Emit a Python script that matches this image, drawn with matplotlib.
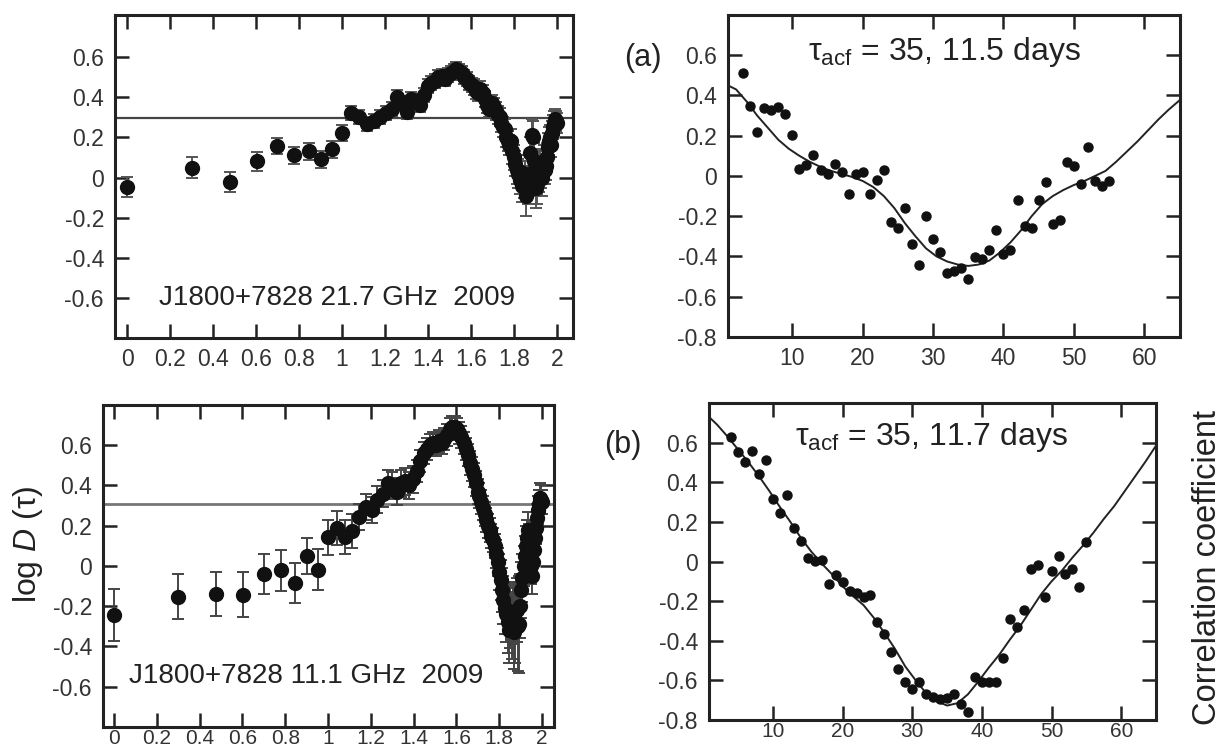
import numpy as np
import matplotlib
matplotlib.use("Agg")
import matplotlib.pyplot as plt

plt.rcParams['font.family'] = ['Liberation Sans', 'DejaVu Sans']
plt.rcParams['mathtext.fontset'] = 'custom'
plt.rcParams['mathtext.rm'] = 'Liberation Sans'
plt.rcParams['mathtext.it'] = 'Liberation Sans:italic'
plt.rcParams['axes.unicode_minus'] = False

# structure function: time lag in days (x axis is log10 of lag)
sf_lags = np.arange(1, 101)

sf_22 = [-0.045, 0.05, -0.02, 0.08, 0.155, 0.11, 0.13, 0.09, 0.14, 0.22,
         0.32, 0.30, 0.265, 0.28, 0.30, 0.32, 0.34, 0.40, 0.37, 0.325,
         0.39, 0.38, 0.36, 0.41, 0.455, 0.47, 0.48, 0.50, 0.505, 0.49,
         0.51, 0.52, 0.53, 0.54, 0.53, 0.52, 0.50, 0.49, 0.47, 0.46,
         0.45, 0.43, 0.42, 0.44, 0.42, 0.39, 0.36, 0.34, 0.36, 0.37,
         0.35, 0.33, 0.31, 0.30, 0.27, 0.25, 0.24, 0.20, 0.18, 0.16,
         0.18, 0.13, 0.10, 0.07, 0.04, 0.02, -0.01, 0.03, -0.04, -0.02,
         0.0, -0.09, -0.04, 0.02, 0.12, 0.21, 0.20, 0.08, 0.0, -0.05,
         -0.03, 0.02, 0.06, 0.03, 0.0, 0.05, 0.08, 0.04, 0.06, 0.10,
         0.15, 0.18, 0.20, 0.16, 0.22, 0.25, 0.27, 0.29, 0.28, 0.27]
sf_22_err = [0.05, 0.05, 0.05, 0.047, 0.04, 0.04, 0.043, 0.043, 0.043, 0.04,
             0.035, 0.035, 0.035, 0.035, 0.035, 0.035, 0.035, 0.035, 0.035, 0.035,
             0.035, 0.035, 0.035, 0.035, 0.035, 0.035, 0.035, 0.035, 0.035, 0.035,
             0.035, 0.035, 0.035, 0.035, 0.035, 0.035, 0.035, 0.035, 0.035, 0.035,
             0.04, 0.04, 0.04, 0.04, 0.04, 0.04, 0.04, 0.04, 0.04, 0.04,
             0.045, 0.045, 0.045, 0.045, 0.045, 0.05, 0.05, 0.05, 0.05, 0.05,
             0.06, 0.06, 0.06, 0.06, 0.07, 0.07, 0.07, 0.08, 0.08, 0.08,
             0.08, 0.10, 0.09, 0.09, 0.08, 0.08, 0.08, 0.09, 0.09, 0.10,
             0.10, 0.09, 0.08, 0.08, 0.09, 0.08, 0.08, 0.07, 0.07, 0.07,
             0.07, 0.07, 0.06, 0.06, 0.06, 0.06, 0.06, 0.05, 0.05, 0.05]
sf_22_level = 0.295

sf_11 = [-0.245, -0.152, -0.139, -0.142, -0.038, -0.022, -0.084, 0.048, -0.018, 0.142,
         0.187, 0.145, 0.175, 0.245, 0.295, 0.28, 0.33, 0.36, 0.41, 0.40,
         0.37, 0.41, 0.42, 0.40, 0.43, 0.47, 0.52, 0.56, 0.58, 0.60,
         0.61, 0.60, 0.62, 0.61, 0.63, 0.65, 0.68, 0.69, 0.69, 0.68,
         0.66, 0.64, 0.61, 0.58, 0.55, 0.51, 0.48, 0.45, 0.41, 0.37,
         0.35, 0.32, 0.29, 0.26, 0.23, 0.20, 0.18, 0.15, 0.13, 0.10,
         0.06, 0.02, -0.03, -0.07, -0.12, -0.17, -0.21, -0.24, -0.28, -0.32,
         -0.26, -0.30, -0.24, -0.33, -0.28, -0.22, -0.30, -0.29, -0.20, -0.12,
         -0.06, 0.0, 0.05, 0.10, 0.14, 0.18, 0.12, 0.06, 0.0, -0.05,
         0.02, 0.08, 0.14, 0.19, 0.24, 0.28, 0.31, 0.34, 0.33, 0.32]
sf_11_err = [0.13, 0.11, 0.11, 0.11, 0.10, 0.10, 0.10, 0.09, 0.10, 0.085,
             0.085, 0.085, 0.085, 0.065, 0.065, 0.065, 0.065, 0.065, 0.065, 0.065,
             0.065, 0.065, 0.065, 0.065, 0.065, 0.055, 0.055, 0.055, 0.055, 0.055,
             0.055, 0.055, 0.055, 0.055, 0.055, 0.055, 0.055, 0.055, 0.055, 0.055,
             0.055, 0.055, 0.055, 0.055, 0.055, 0.06, 0.06, 0.06, 0.06, 0.06,
             0.06, 0.06, 0.06, 0.06, 0.06, 0.06, 0.06, 0.06, 0.06, 0.06,
             0.07, 0.07, 0.09, 0.10, 0.11, 0.12, 0.13, 0.14, 0.15, 0.16,
             0.15, 0.16, 0.15, 0.18, 0.20, 0.16, 0.22, 0.24, 0.16, 0.14,
             0.12, 0.10, 0.10, 0.10, 0.09, 0.09, 0.09, 0.09, 0.09, 0.09,
             0.08, 0.08, 0.08, 0.08, 0.07, 0.07, 0.07, 0.07, 0.07, 0.06]
sf_11_level = 0.31

# autocorrelation: lag in days
acf_a_lags = np.arange(3, 56)
acf_a = [0.51, 0.35, 0.22, 0.34, 0.33, 0.345, 0.31, 0.205, 0.035, 0.055,
         0.105, 0.03, 0.01, 0.06, 0.02, -0.09, 0.01, 0.02, -0.09, -0.02,
         0.03, -0.23, -0.26, -0.16, -0.34, -0.44, -0.20, -0.315, -0.38, -0.48,
         -0.47, -0.455, -0.51, -0.405, -0.415, -0.37, -0.27, -0.39, -0.37, -0.12,
         -0.25, -0.26, -0.12, -0.03, -0.24, -0.22, 0.07, 0.05, -0.04, 0.145,
         -0.025, -0.05, -0.025]
fit_a_x = [0.85, 2, 3.5, 5, 6.5, 8, 9.5, 11, 12.5, 14, 15.5, 17, 18.5, 20, 21.5,
           23, 24.5, 26, 27.5, 29, 30.5, 32, 33.5, 35, 36.5, 38, 39.5, 41, 42.5,
           44, 45.5, 47, 48.5, 50, 51.5, 53, 54.5, 56, 57.5, 59, 60.5, 62, 63.5, 65]
fit_a_y = [0.45, 0.43, 0.37, 0.30, 0.24, 0.18, 0.135, 0.10, 0.07, 0.045, 0.025,
           0.01, -0.005, -0.025, -0.055, -0.10, -0.16, -0.235, -0.30, -0.36, -0.40,
           -0.425, -0.44, -0.447, -0.44, -0.42, -0.38, -0.33, -0.27, -0.20, -0.14,
           -0.10, -0.07, -0.045, -0.025, 0.0, 0.025, 0.07, 0.12, 0.17, 0.225,
           0.28, 0.33, 0.375]

acf_b_lags = np.arange(4, 56)
acf_b = [0.63, 0.555, 0.50, 0.56, 0.44, 0.51, 0.317, 0.246, 0.337, 0.168,
         0.106, 0.018, 0.002, 0.01, -0.113, -0.07, -0.104, -0.15, -0.158, -0.18,
         -0.167, -0.306, -0.365, -0.458, -0.54, -0.61, -0.643, -0.61, -0.668, -0.685,
         -0.694, -0.69, -0.668, -0.719, -0.761, -0.584, -0.61, -0.61, -0.61, -0.488,
         -0.29, -0.332, -0.247, -0.037, -0.02, -0.177, -0.049, 0.03, -0.062, -0.037,
         -0.13, 0.10]
fit_b_x = [0.82, 2, 3.5, 5, 6.5, 8, 9.5, 11, 12.5, 14, 15.5, 17, 18.5, 20, 21.5,
           23, 24.5, 26, 27.5, 29, 30.5, 32, 33.5, 35, 36.5, 38, 39.5, 41, 42.5,
           44, 45.5, 47, 48.5, 50, 51.5, 53, 54.5, 56, 57.5, 59, 60.5, 62, 63.5, 65]
fit_b_y = [0.73, 0.69, 0.63, 0.565, 0.50, 0.43, 0.355, 0.275, 0.20, 0.12, 0.05,
           -0.01, -0.065, -0.125, -0.175, -0.22, -0.285, -0.36, -0.44, -0.53, -0.60,
           -0.665, -0.705, -0.727, -0.715, -0.67, -0.605, -0.535, -0.47, -0.395, -0.325,
           -0.245, -0.165, -0.10, -0.045, 0.02, 0.08, 0.145, 0.215, 0.28, 0.355,
           0.43, 0.505, 0.585]

sf_xticks = [0, 0.2, 0.4, 0.6, 0.8, 1.0, 1.2, 1.4, 1.6, 1.8, 2.0]
sf_xlabels = ['0', '0.2', '0.4', '0.6', '0.8', '1', '1.2', '1.4', '1.6', '1.8', '2']
y_short = [-0.6, -0.4, -0.2, 0, 0.2, 0.4, 0.6]
y_long = [-0.8, -0.6, -0.4, -0.2, 0, 0.2, 0.4, 0.6]
acf_xticks = [10, 20, 30, 40, 50, 60]


def fmt(v):
    return '0' if v == 0 else ('%g' % v)


def style(ax, xticks, xlabels, yticks, xpad=8, xsize=16.5):
    ax.set_xticks(xticks)
    ax.set_xticklabels(xlabels)
    ax.set_yticks(yticks)
    ax.set_yticklabels([fmt(v) for v in yticks])
    ax.tick_params(direction='in', top=True, right=True, length=10, width=1.8,
                   labelsize=16.5, labelcolor='#333333', color='#222222')
    ax.tick_params(axis='x', pad=xpad, labelsize=xsize)
    ax.tick_params(axis='y', pad=8)
    for s in ax.spines.values():
        s.set_linewidth(2.2)
        s.set_color('#222222')


fig = plt.figure(figsize=(12.25, 7.49), dpi=100)

# top left: 21.7 GHz structure function
ax1 = fig.add_axes([0.0939, 0.5487, 0.3739, 0.4312])
ax1.axhline(sf_22_level, color='#444444', lw=1.6)
ax1.errorbar(np.log10(sf_lags), sf_22, yerr=sf_22_err, fmt='o', color='#111111',
             ms=10, ecolor='#555555', elinewidth=1.4, capsize=4.5, capthick=1.4)
ax1.set_xlim(-0.056, 2.074)
ax1.set_ylim(-0.8, 0.81)
style(ax1, sf_xticks, sf_xlabels, y_short, xpad=7)
ax1.text(0.485, 0.124, 'J1800+7828 21.7 GHz  2009', transform=ax1.transAxes,
         ha='center', va='center', fontsize=20, color='#222222')

# bottom left: 11.1 GHz structure function
ax2 = fig.add_axes([0.0841, 0.0294, 0.3682, 0.4299])
ax2.axhline(sf_11_level, color='#777777', lw=2.0)
ax2.errorbar(np.log10(sf_lags), sf_11, yerr=sf_11_err, fmt='o', color='#111111',
             ms=10, ecolor='#444444', elinewidth=1.4, capsize=4.5, capthick=1.4)
ax2.set_xlim(-0.051, 2.056)
ax2.set_ylim(-0.8, 0.8)
style(ax2, sf_xticks, sf_xlabels, y_short, xpad=1.5, xsize=15)
ax2.text(0.45, 0.158, 'J1800+7828 11.1 GHz  2009', transform=ax2.transAxes,
         ha='center', va='center', fontsize=20, color='#222222')

# top right: ACF (a)
ax3 = fig.add_axes([0.5943, 0.5501, 0.3690, 0.4299])
ax3.plot(fit_a_x, fit_a_y, color='#222222', lw=1.4)
ax3.plot(acf_a_lags, acf_a, 'o', color='#111111', ms=6.5)
ax3.set_xlim(0.85, 65.1)
ax3.set_ylim(-0.8, 0.8)
style(ax3, acf_xticks, [str(v) for v in acf_xticks], y_long, xpad=7)
ax3.text(0.48, 0.885, r'$\mathregular{τ_{acf}}$ = 35, 11.5 days', transform=ax3.transAxes,
         ha='center', va='center', fontsize=23, color='#222222')

# bottom right: ACF (b)
ax4 = fig.add_axes([0.5788, 0.0387, 0.3649, 0.4232])
ax4.plot(fit_b_x, fit_b_y, color='#222222', lw=1.4)
ax4.plot(acf_b_lags, acf_b, 'o', color='#111111', ms=6.5)
ax4.set_xlim(0.82, 65.0)
ax4.set_ylim(-0.8, 0.8)
style(ax4, acf_xticks, [str(v) for v in acf_xticks], y_long, xpad=1.5, xsize=15)
ax4.text(0.497, 0.893, r'$\mathregular{τ_{acf}}$ = 35, 11.7 days', transform=ax4.transAxes,
         ha='center', va='center', fontsize=23, color='#222222')

fig.text(0.525, 0.9226, '(a)', ha='center', va='center', fontsize=22, color='#222222')
fig.text(0.5086, 0.4059, '(b)', ha='center', va='center', fontsize=22, color='#222222')
fig.text(0.023, 0.2737, r'log $\mathit{D}$ (τ)', rotation=90, ha='center',
         va='center', fontsize=23, color='#222222')
fig.text(0.986, 0.2417, 'Correlation coefficient', rotation=90, ha='center',
         va='center', fontsize=23.5, color='#222222')

fig.savefig('out.png', dpi=100)
